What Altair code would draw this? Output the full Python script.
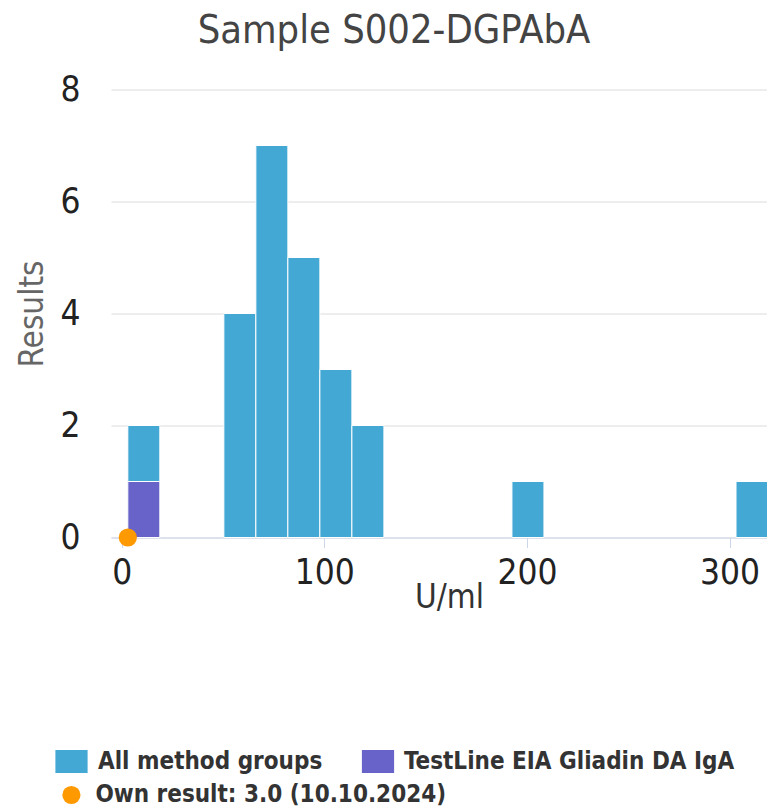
import altair as alt
import pandas as pd

# ---------------- data ----------------
TITLE = "Sample S002-DGPAbA"
X_TITLE = "U/ml"
Y_TITLE = "Results"

all_bin_lo = [3.0, 50.4, 66.2, 82.0, 97.8, 113.6, 192.6, 303.2]
all_bin_hi = [18.8, 66.2, 82.0, 97.8, 113.6, 129.4, 208.4, 319.0]
all_counts = [2, 4, 7, 5, 3, 2, 1, 1]

method_bin_lo = [3.0]
method_bin_hi = [18.8]
method_counts = [1]

own_result = [3.0]
own_level = [0]

x_ticks = [0, 100, 200, 300]
y_ticks = [0, 2, 4, 6, 8]

series_names = ["All method groups", "TestLine EIA Gliadin DA IgA",
                "Own result: 3.0 (10.10.2024)"]
colors = ["#44a8d5", "#6863c9", "#ff9900"]

FONT = "DejaVu Sans Condensed, DejaVu Sans"

df_all = pd.DataFrame({"lo": all_bin_lo, "hi": all_bin_hi, "n": all_counts,
                       "series": series_names[0]})
df_m = pd.DataFrame({"lo": method_bin_lo, "hi": method_bin_hi, "n": method_counts,
                     "series": series_names[1]})
df_own = pd.DataFrame({"lo": own_result, "n": own_level, "series": series_names[2]})

xscale = alt.Scale(domain=[-5.3, 318.5], nice=False, zero=False, padding=0)
yscale = alt.Scale(domain=[0, 8], nice=False, padding=0)

xaxis = alt.Axis(values=x_ticks, title=X_TITLE, grid=False, domainColor="#ccd6eb",
                 tickColor="#ccd6eb", tickSize=10, labelPadding=8, labelFlush=False,
                 labelFont=FONT, labelFontSize=35, labelColor="#222222",
                 titleFont=FONT, titleFontSize=33, titleColor="#333333",
                 titleFontWeight="normal", titleX=338, titleY=69.5,
                 titleBaseline="alphabetic", titleAlign="center")
yaxis = alt.Axis(values=y_ticks, title=Y_TITLE, domain=False, ticks=False,
                 gridColor="#dcdcdc", labelPadding=31, labelFlush=False,
                 labelFont=FONT, labelFontSize=35, labelColor="#222222",
                 titleFont=FONT, titleFontSize=33, titleColor="#666666",
                 titleFontWeight="normal", titleAngle=270, titleX=-69, titleY=224,
                 titleBaseline="alphabetic", titleAlign="center")

RECT = "M-1.4,-1H1.4V1H-1.4Z"


def leg(x, y, sym, size, offset):
    return alt.Legend(title=None, orient="none", legendX=x, legendY=y,
                      symbolType=sym, symbolSize=size, symbolStrokeWidth=0,
                      symbolOpacity=1, labelFont=FONT, labelFontSize=24,
                      labelFontWeight="bold", labelColor="#333333",
                      labelOffset=offset, labelLimit=600, padding=0)


bars_all = alt.Chart(df_all).mark_rect(stroke="white", strokeWidth=1, opacity=1).encode(
    x=alt.X("lo:Q", scale=xscale, axis=xaxis),
    x2="hi:Q",
    y=alt.Y("n:Q", scale=yscale, axis=yaxis),
    y2=alt.datum(0),
    color=alt.Color("series:N",
                    scale=alt.Scale(domain=[series_names[0]], range=[colors[0]]),
                    legend=leg(-51.5, 660, RECT, 529, 14.5)),
)

bars_m = alt.Chart(df_m).mark_rect(stroke="white", strokeWidth=1, opacity=1).encode(
    x=alt.X("lo:Q", scale=xscale, axis=xaxis),
    x2="hi:Q",
    y=alt.Y("n:Q", scale=yscale, axis=yaxis),
    y2=alt.datum(0),
    color=alt.Color("series:N",
                    scale=alt.Scale(domain=[series_names[1]], range=[colors[1]]),
                    legend=leg(255, 660, RECT, 529, 14)),
)

own = alt.Chart(df_own).mark_circle(size=330, opacity=1).encode(
    x=alt.X("lo:Q", scale=xscale, axis=xaxis),
    y=alt.Y("n:Q", scale=yscale, axis=yaxis),
    color=alt.Color("series:N",
                    scale=alt.Scale(domain=[series_names[2]], range=[colors[2]]),
                    legend=leg(-51.6, 693.5, "circle", 330, 12)),
)

chart = alt.layer(bars_all, bars_m, own).resolve_scale(color="independent").properties(
    width=656,
    height=448,
    background="white",
    title=alt.TitleParams(TITLE, font=FONT, fontSize=39.5, fontWeight="normal",
                          color="#444444", anchor="middle", dx=-45, offset=-10,
                          baseline="alphabetic"),
    autosize=alt.AutoSizeParams(type="none"),
    padding={"left": 103, "top": 81.5, "right": 0, "bottom": 273.5},
).configure_view(strokeWidth=0)

chart.save("out.html", embed_options={"renderer": "svg", "actions": False})
